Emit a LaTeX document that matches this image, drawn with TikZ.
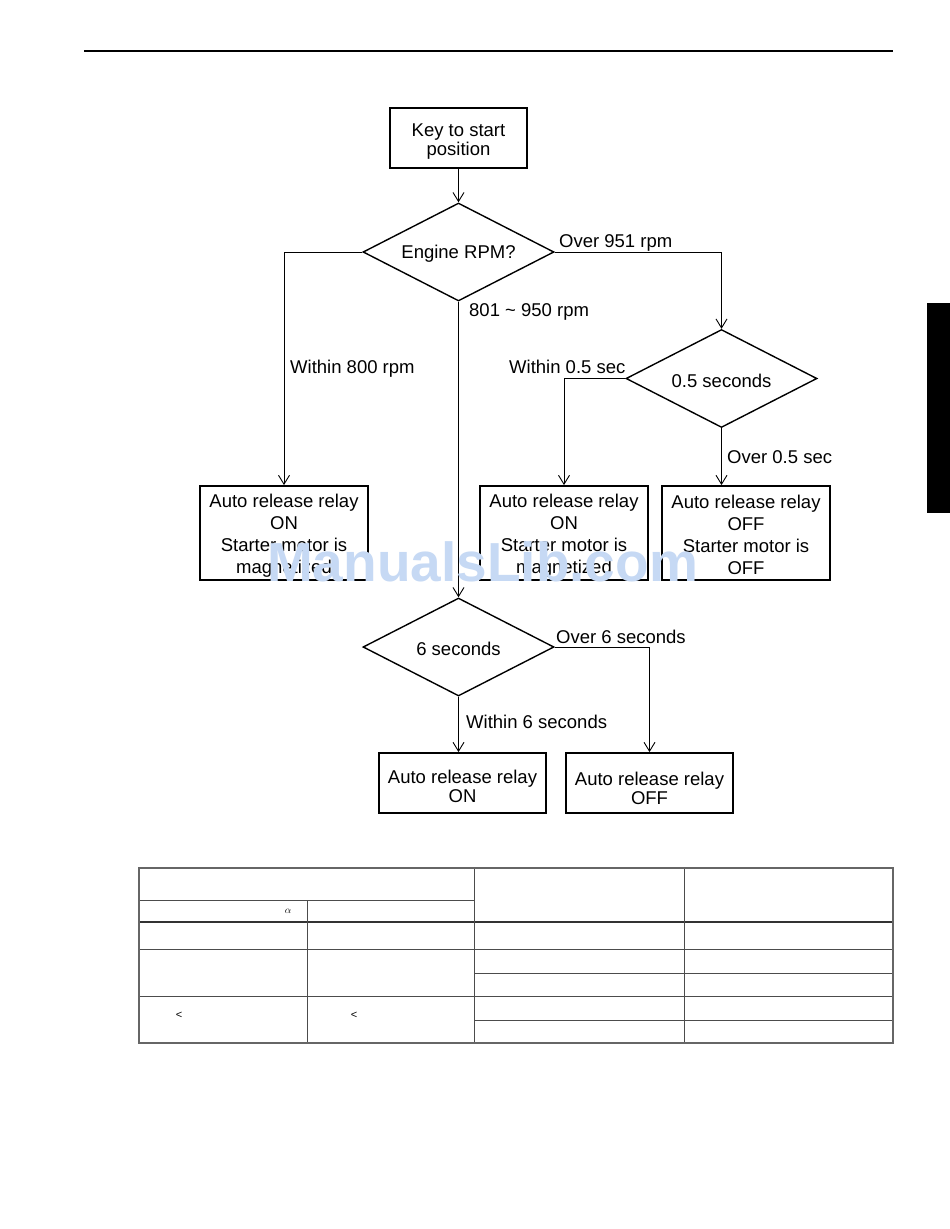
\documentclass[tikz,border=0pt]{standalone}
\usepackage{fontspec}
\setmainfont{Liberation Sans}
\usetikzlibrary{shapes.geometric,arrows.meta}
\definecolor{wmblue}{RGB}{198,217,244}
\tikzset{
  every node/.style={font=\fontsize{18.5}{22}\selectfont, inner sep=0pt},
  procbox/.style={draw, line width=1.8pt, minimum width=168pt, minimum height=94pt},
  smallbox/.style={draw, line width=1.8pt, minimum width=167pt, minimum height=60pt},
  boxtext/.style={align=center},
  decision/.style={draw, diamond, line width=1.4pt, aspect=2, minimum width=191pt, minimum height=98pt},
  arr/.style={line width=1pt, -{Straight Barb[length=9pt,width=11pt,line width=0.9pt]}},
  lbl/.style={anchor=base west},
  tline/.style={line width=1pt, draw=black!70},
}
\begin{document}
\begin{tikzpicture}[x=1pt,y=-1pt]
\useasboundingbox (0,0) rectangle (950,1229);
\fill[white] (0,0) rectangle (950,1229);
% header rule and side tab
\draw[line width=1.5pt] (84,51) -- (893,51);
\fill[black] (927,303) rectangle (950,513);

% boxes and decisions
\node[draw, line width=1.8pt, minimum width=137pt, minimum height=60pt] (key) at (458.5,138) {};
\node[boxtext, font=\fontsize{18.5}{18.5}\selectfont] (keyt) at ([yshift=-3.5pt]key.center) {Key to start\\ position};
\node[decision] (d1) at (458.5,252) {};
\node (d1t) at ([yshift=-2pt]d1.center) {Engine RPM?};
\node[decision] (d2) at (721.5,378.5) {};
\node (d2t) at ([yshift=-2pt]d2.center) {0.5 seconds};
\node[decision] (d3) at (458.5,647) {};
\node (d3t) at ([yshift=-2pt]d3.center) {6 seconds};
\node[procbox] (b1) at (284,533) {};
\node[boxtext] (b1t) at ([yshift=-3pt]b1.center) {Auto release relay\\ON\\Starter motor is\\magnetized};
\node[procbox] (b2) at (564,533) {};
\node[boxtext] (b2t) at ([yshift=-3pt]b2.center) {Auto release relay\\ON\\Starter motor is\\magnetized};
\node[procbox] (b3) at (746,533) {};
\node[boxtext] (b3t) at ([yshift=-1.5pt]b3.center) {Auto release relay\\OFF\\Starter motor is\\OFF};
\node[smallbox] (b4) at (462.5,783) {};
\node[boxtext, font=\fontsize{18.5}{19}\selectfont] (b4t) at ([yshift=-3pt]b4.center) {Auto release relay\\ON};
\node[smallbox] (b5) at (649.5,783) {};
\node[boxtext, font=\fontsize{18.5}{18.5}\selectfont] (b5t) at ([yshift=-5.5pt]b5.center) {Auto release relay\\OFF};

% connectors
\draw[arr] (key.south) -- (d1.north);
\draw[arr] (d1.west) -| (b1.north);
\draw[arr] (d1.south) -- (d3.north);
\draw[arr] (d1.east) -| (d2.north);
\draw[arr] (d2.west) -| (b2.north);
\draw[arr] (d2.south) -- (d2.south |- b3.north);
\draw[arr] (d3.south) -- (d3.south |- b4.north);
\draw[arr] (d3.east) -| (b5.north);

% labels
\node[lbl] (l1) at (559,247) {Over 951 rpm};
\node[lbl] (l2) at (469,316) {801 \textasciitilde{} 950 rpm};
\node[lbl] (l3) at (290,373) {Within 800 rpm};
\node[lbl] (l4) at (509,373) {Within 0.5 sec};
\node[lbl] (l5) at (727,463) {Over 0.5 sec};
\node[lbl] (l6) at (556,643) {Over 6 seconds};
\node[lbl] (l7) at (466,728) {Within 6 seconds};

% table
\draw[tline] (139,900) -- (474,900);
\draw[line width=1.2pt, draw=black!80] (139,922) -- (893,922);
\draw[tline] (139,949) -- (893,949);
\draw[tline] (474,973) -- (893,973);
\draw[tline] (139,996) -- (893,996);
\draw[tline] (474,1020) -- (893,1020);
\draw[tline] (307,900) -- (307,1043);
\draw[tline] (474,868) -- (474,1043);
\draw[tline] (684,868) -- (684,1043);
\draw[line width=1.5pt, draw=black!60] (139,868) rectangle (893,1043);
\node[font=\fontsize{10}{10}\selectfont] (alpha) at (288,911) {$\alpha$};
\node[font=\fontsize{11}{11}\selectfont] (lt1) at (179,1015) {<};
\node[font=\fontsize{11}{11}\selectfont] (lt2) at (354,1015) {<};

% watermark
\node[font=\fontsize{55}{55}\selectfont\bfseries, text=wmblue] (wm) at (482.5,562) {ManualsLib.com};
\end{tikzpicture}
\end{document}
